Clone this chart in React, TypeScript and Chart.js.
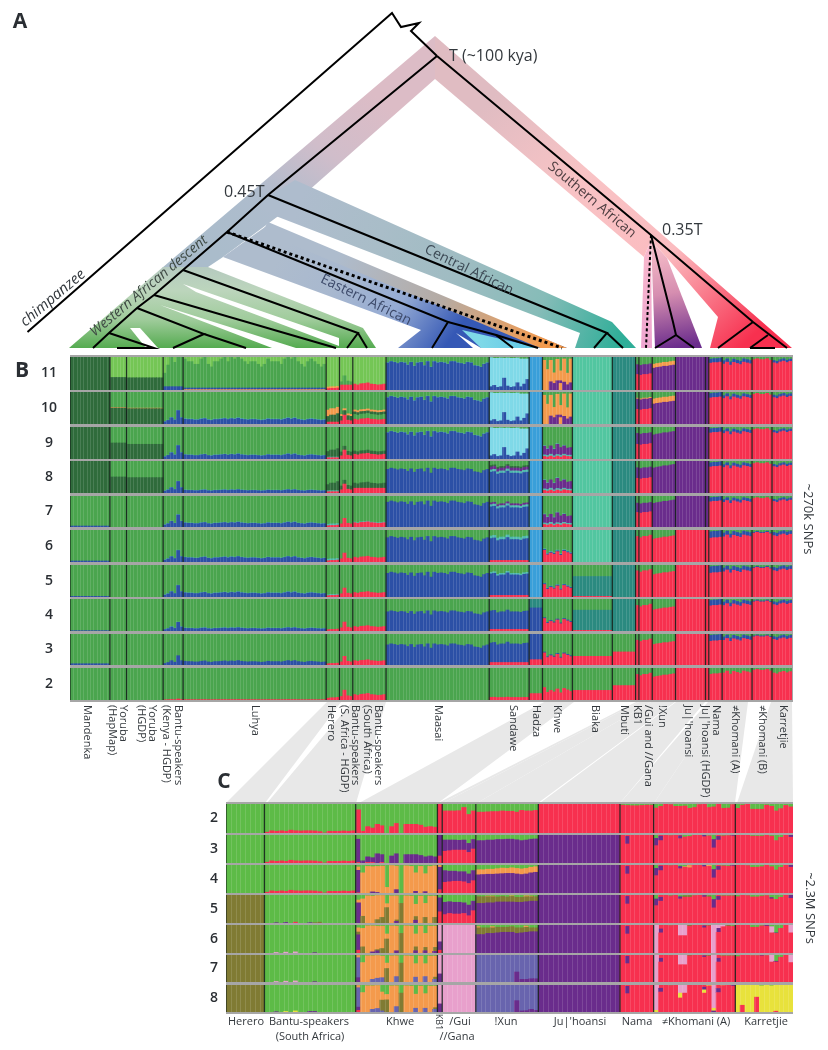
import React, { useEffect, useRef } from "react";
import { Chart, registerables } from "chart.js";

Chart.register(...registerables);

// ---------- colours of the ancestry components ----------
const COLORS: Record<string, string> = {
  G: "#4aa54e", L: "#74c655", D: "#2f6b3b", B: "#2c50a6", R: "#f7304f", O: "#f49a4c",
  C: "#7fd9e8", H: "#3a9fd9", T: "#52c6a0", M: "#2b8a80", P: "#6a2c8c", A: "#4fb9ad",
  E: "#5dbb47", V: "#807b33", K: "#e8a0cc", I: "#6864ae", Y: "#e8e23c",
};

// ---------- panel B ----------
const B_COUNTS = [12, 5, 11, 6, 43, 4, 4, 10, 31, 12, 4, 9, 12, 7, 1, 4, 7, 9, 1, 4, 9, 6, 6];

const SHAPE_LUHYA = [1.1, 1, 1, .9, .9, 1.1, 1.2, .9, .8, 1, 1, 1.1, 1.2, 1, 1.2, 1.1, 1.3, 1.1, 1, .9, 1, 1, .9, .8, .9, 1.1, 1, 1, 1, .9, 1.1, 1.3, 1.1, 1.3, 1, .9, .8, 1, 1.1, 1, .9, .8, .9];
const SHAPE_BANTU_K = [.5, .8, 1.4, .9, 3, 1.4];
const SHAPE_MAASAI = [1, 1.05, 1.02, .98, 1.02, 1, .92, 1.02, .88, 1, 1.02, .9, 1.05, .84, 1.05, 1, 1.02, 1, .95, 1.05, 1.05, 1, .98, .95, 1.02, 1, .9, .88, .84, .95, 1];
const SHAPE_SANDAWE = [1.05, 1.08, .95, 1, 1, 1.1, 1, 1, 1, .97, 1.03, 1.05];
const SHAPE_KHWE = [1.3, .8, 1, .85, 1.15, .75, 1.2, 1.05, .9];
const SHAPE_BANTU_S = [1, .85, 1.05, 1.1, 1.2, 1, .95, .85, .9, 1];
const SHAPE_BANTU_H = [.5, 1.4, .6, .5];
const SHAPE_HERERO = [.8, 1, 1, 1.2];
const SHAPE_GUI = [.95, 1, 1, 1.05];
const SHAPE_XUN = [.92, .95, .97, 1, 1, 1.03, 1.05];
const SHAPE_NAMA = [.98, 1, 1, 1.02];
const SHAPE_KHOM_A = [.96, 1.03, .92, 1.02, .98, .94, 1.03, 1, .97];
const SHAPE_KHOM_B = [1, 1.03, 1, 1, 1.03, .98];
const SHAPE_KARRETJIE = [.97, .94, 1, 1.03, .98, 1.02];
const B_SHAPES: Record<number, number[]> = { 3: SHAPE_BANTU_K, 4: SHAPE_LUHYA, 5: SHAPE_HERERO, 6: SHAPE_BANTU_H, 7: SHAPE_BANTU_S, 8: SHAPE_MAASAI, 9: SHAPE_SANDAWE, 11: SHAPE_KHWE, 15: SHAPE_GUI, 16: SHAPE_XUN, 19: SHAPE_NAMA, 20: SHAPE_KHOM_A, 21: SHAPE_KHOM_B, 22: SHAPE_KARRETJIE };

const SAN_CYAN = ["B.1 C.88 G", "B.14 C.82 G", "B.08 C.88 G", "B.1 C.87 G", "B.36 C.6 G", "B.12 C.85 G", "B.08 C.88 G", "B.1 C.86 G", "B.22 C.75 G", "B.1 C.84 G", "B.18 C.76 G", "B.32 C.62 G"];
const KHWE_ORANGE = ["O.9 G", "O.62 G", "P.25 O.65 G", "P.2 O.32 G", "P.28 O.65 G", "O.2 P.08 O.3 G", "P.24 O.7 G", "P.16 O.35 G", "P.22 O.72 G"];
const KHWE_PURPLE = ["R.08 A.05 P.27 A.02 G", "R.06 A.05 P.2 A.02 G", "R.09 A.06 P.26 G", "R.05 A.05 P.2 A.02 G", "R.09 A.05 P.32 A.02 G", "R.06 A.06 P.24 G", "R.1 A.05 P.26 A.02 G", "R.08 A.04 P.22 G", "R.07 A.05 P.24 G"];

const B_ROWS: Record<number, any[]> = {
  11: ["D", "D.38 L", "D.37 L", "B.1 G.82 L", "O.01 B.05 G.8 L", "R.05 O.05 L", "R.15 G.2 L", "R.18 L", "B.82 A.01 G", SAN_CYAN, "H", KHWE_ORANGE, "T", "M", "R.47 P.3 G", "R.47 P.3 G", "P.72 O.12 G", "P", "P", "R.83 B.12 G", "R.82 B.1 G", "R.92 G", "R.85 B.07 G"],
  10: ["D", "D.5 O.015 G", "D.48 O.015 G", "B.14 A.01 G", "B.14 A.015 G", "R.06 D.22 O.2 G", "R.2 D.14 O.06 G", "R.15 G.15 D.08 O.06 G", "B.82 A.01 G", SAN_CYAN, "H", KHWE_ORANGE, "T", "M", "R.46 P.32 O.03 G", "R.46 P.32 O.03 G", "P.68 O.16 G", "P", "P", "R.83 B.14 G", "R.83 B.09 G", "R.93 G", "R.85 B.08 G"],
  9: ["D", "D.5 G", "D.46 G", "B.14 A.01 G", "B.12 A.01 G", "R.04 A.02 D.22 G", "R.2 D.12 G", "R.15 D.1 G", "B.82 A.01 G", SAN_CYAN, "H", KHWE_PURPLE, "T", "M", "R.46 P.34 G", "R.46 P.34 G", "P.82 G", "P", "P", "R.83 B.13 G", "R.83 B.09 G", "R.92 G", "R.85 B.07 G"],
  8: ["D", "D.5 G", "D.48 G", "B.12 A.01 G", "B.08 A.01 G", "R.04 A.03 D.24 G", "R.2 D.12 G", "R.15 D.16 G", "B.74 G", "B.62 A.07 P.09 D.05 G", "H", KHWE_PURPLE, "T", "M", "R.46 P.33 G", "R.46 P.33 G", "P.85 G", "P", "P", "R.83 B.13 G", "R.83 B.09 G", "R.92 G", "R.85 B.07 G"],
  7: ["B.03 G", "G", "G", "B.13 A.01 G", "B.12 A.01 G", "R.05 A.05 G", "R.2 G", "R.14 A.02 G", "B.8 G", "B.62 A.07 P.06 G", "H", KHWE_PURPLE, "T", "M", "R.47 P.3 G", "R.47 P.3 G", "P.83 G", "P", "P", "R.83 B.13 G", "R.83 B.09 G", "R.92 G", "R.85 B.07 G"],
  6: ["B.03 G", "G", "G", "B.12 A.01 G", "B.13 A.01 G", "R.05 A.05 G", "R.2 G", "R.15 G", "B.76 G", "R.05 B.65 A.08 G", "H", "R.28 B.03 A.02 G", "T", "M", "R.8 G", "R.8 G", "R.78 G", "R", "R", "R.76 B.2 G", "R.82 B.12 G", "R.9 B.03 G", "R.85 B.1 G"],
  5: ["B.02 G", "G", "G", "B.12 A.01 G", "B.12 A.01 G", "R.05 A.03 G", "R.2 G", "R.14 G", "B.74 G", "R.05 B.64 A.05 G", "H", "R.3 B.03 A.01 G", "R.02 M.62 G", "M", "R.82 G", "R.82 G", "R.76 G", "R", "R", "R.76 B.2 G", "R.82 B.12 G", "R.9 B.03 G", "R.85 B.1 G"],
  4: ["B.01 G", "G", "G", "B.09 A.01 G", "B.08 A.01 G", "R.05 G", "R.2 G", "R.14 G", "B.6 G", "R.05 B.55 G", "B.72 M", "R.3 B.03 G", "R.02 M.63 G", "M", "R.8 G", "R.8 G", "R.72 G", "R", "R", "R.8 B.17 G", "R.83 B.11 G", "R.91 B.03 G", "R.85 B.09 G"],
  3: ["B.04 G", "G", "G", "B.1 G", "B.11 G", "R.05 G", "R.2 G", "R.14 G", "B.65 G", "R.08 B.6 G", "R.17 B.83", "R.3 B.03 G", "R.28 G", "R.42 G", "R.8 G", "R.8 G", "R.72 G", "R", "R", "R.78 B.19 G", "R.83 B.11 G", "R.91 B.03 G", "R.85 B.09 G"],
  2: ["G", "G", "G", "R.01 G", "R.01 G", "R.07 G", "R.22 G", "R.17 G", "G", "R.08 G", "R.2 G", "R.3 G", "R.3 G", "R.45 G", "R.8 G", "R.8 G", "R.78 G", "R", "R", "R.82 G", "R.88 G", "R.93 G", "R.87 G"],
};
const B_ROW_ORDER = [11, 10, 9, 8, 7, 6, 5, 4, 3, 2];

// ---------- panel C ----------
const C_COUNTS = [8, 19, 17, 1, 7, 13, 17, 7, 17, 12];
const SHAPE_BANTU_C = [.4, 1.1, .85, 1.1, .85, 1.4, 1.1, 1, 1.1, 1.1, 1, .7, 0, .85, .85, .85, 1, .85, 1.1];
const C_SHAPES: Record<number, number[]> = { 1: SHAPE_BANTU_C };

const BANTU5 = ["E", "E", "P.01 E", "E", "P.02 E", "E", "R.03 E", "E", "E", "P.01 E", "V.01 E", "V.03 E", "E", "E", "E", "E", "E", "E", "E"];
const BANTU6 = ["E", "E", "K.02 E", "E", "K.03 E", "E", "K.04 E", "E", "E", "E", "P.01 E", "E", "E", "E", "E", "E", "E", "E", "E"];
const BANTU8 = ["E", "E", "P.01 E", "E", "Y.02 E", "E", "Y.04 E", "E", "E", "P.02 E", "P.02 E", "E", "E", "E", "E", "E", "E", "E", "E"];

const KHWE2 = ["R.8 E", "R.06 E", "R.22 E", "R.17 E", "R.3 E", "R.25 E", "E", "R.22 E", "R.33 E", "E", "R.3 E", "R.3 E", "R.3 E", "R.27 E", "R.2 E", "R.22 E", "R.2 E"];
const KHWE3 = ["R.02 P.83 E", "P.08 E", "R.02 P.2 E", "R.02 P.17 E", "P.33 E", "R.02 P.28 E", "E", "P.25 E", "P.33 E", "E", "P.3 E", "P.3 E", "P.3 E", "P.27 E", "P.22 E", "P.25 E", "P.22 E"];
const KHWE4 = ["R.01 P.8 O.12 E", "O.72 E", "O.95 E", "P.04 O.9 E", "P.02 O.93 E", "O.96 E", "O.2 E", "O.98 E", "P.12 O.84 E", "E", "O.97 E", "O.95 E", "P.06 O.66 E", "O.95 E", "P.05 O.64 E", "O.95 E", "O.97 E"];
const KHWE5 = ["P.72 O.1 E", "V.24 O.62 E", "O.97 E", "O.96 E", "V.12 O.86 E", "V.2 O.78 E", "V.55 O.14 E", "O.97 E", "P.06 V.05 O.86 E", "V.7 E", "O.97 E", "O.96 E", "P.1 V.13 O.44 E", "O.96 E", "V.2 O.5 E", "O.96 E", "V.2 O.76 E"];
const KHWE6 = ["R.1 P.55 V.1 O.15 E", "V.22 O.66 E", "O.97 E", "P.04 O.93 E", "P.08 V.04 O.84 E", "V.16 O.8 E", "V.5 O.18 E", "O.97 E", "P.08 O.88 E", "V.7 E", "O.97 E", "O.96 E", "P.08 V.14 O.46 E", "O.96 E", "P.08 V.12 O.5 E", "O.96 E", "P.06 V.14 O.76 E"];
const KHWE7 = ["P.16 I.74 O.08 E", "O.72 E", "O.97 E", "I.1 O.87 E", "I.14 O.84 E", "I.16 O.8 E", "V.5 O.2 E", "O.97 E", "I.2 O.77 E", "V.7 E", "O.97 E", "O.96 E", "I.18 O.5 E", "O.96 E", "I.2 O.48 E", "O.96 E", "I.1 V.08 O.78 E"];
const KHWE8 = ["R.06 P.12 I.72 O.08 E", "O.72 E", "O.97 E", "I.1 O.87 E", "I.13 O.85 E", "I.04 V.4 O.3 E", "V.45 O.2 E", "O.97 E", "I.2 O.77 E", "V.7 E", "O.97 E", "O.96 E", "I.14 O.52 E", "O.96 E", "I.14 O.54 E", "O.96 E", "I.1 V.06 O.8 E"];

const GUI2 = ["R.76 E", "R.76 E", "R.76 E", "R.77 E", "R.88 E", "R.64 E", "R.76 E"];
const GUI3 = ["R.42 P.4 E", "R.44 P.38 E", "R.46 P.36 E", "R.46 P.35 E", "R.46 P.36 E", "R.38 P.32 E", "R.5 P.34 E"];
const GUI4 = ["R.38 P.42 E", "R.4 P.38 E", "R.42 P.36 E", "R.42 P.34 E", "R.4 P.36 E", "R.34 P.34 E", "R.44 P.36 E"];
const GUI5 = ["R.3 P.44 E", "R.34 P.42 E", "R.32 P.42 E", "R.32 P.42 E", "R.34 P.38 E", "R.26 P.38 E", "R.44 P.34 E"];

const XUN2 = ["R.72 E", "R.72 E", "R.73 E", "R.74 E", "R.74 E", "R.76 E", "R.75 E", "R.75 E", "R.72 E", "R.78 E", "R.76 E", "R.76 E", "R.78 E"];
const XUN3 = ["P.8 E", "P.8 E", "P.82 E", "P.82 E", "P.84 E", "P.84 E", "P.85 E", "P.85 E", "P.83 E", "P.8 E", "P.82 E", "P.85 E", "P.86 E"];
const XUN4 = ["P.65 O.18 E", "P.66 O.17 E", "P.67 O.18 E", "P.67 O.18 E", "P.68 O.19 E", "P.69 O.2 E", "P.7 O.18 E", "P.7 O.2 E", "P.68 O.2 E", "P.66 O.2 E", "P.68 O.2 E", "P.72 O.2 E", "P.74 O.2 E"];
const XUN5 = ["P.7 V.24 E", "P.7 V.24 E", "P.72 V.22 O.02 E", "P.72 V.22 O.02 E", "P.75 V.18 E", "P.75 V.2 E", "P.75 V.18 E", "P.75 V.2 O.02 E", "P.74 V.18 E", "P.74 V.18 E", "P.76 V.18 O.03 E", "P.78 V.16 O.02 E", "P.78 V.16 E"];
const XUN6 = ["P.66 V.24 O.04 E", "P.66 V.24 E", "P.7 V.2 E", "P.7 V.2 O.04 E", "P.72 V.2 E", "P.74 V.18 E", "P.74 V.18 E", "P.74 V.2 E", "P.7 V.2 E", "P.72 V.18 E", "P.74 V.18 O.04 E", "P.76 V.14 E", "P.76 V.14 E"];
const XUN7 = ["I", "I", "I", "I", "I", "I", "I", "I", "P.37 I", "P.1 I", "P.1 I", "P.12 I", "P.12 I"];
const XUN8 = ["I", "I", "I", "I", "I", "I", "I", "I", "P.42 I", "P.04 I", "P.05 I", "P.1 I", "P.06 I"];

const JU_ALL_RED = "R";
const NAMA2 = ["R.96 E", "R.95 E", "R.94 E", "R.94 E", "R.95 E", "R.96 E", "R.96 E"];
const NAMA3 = ["R", "R.68 P.27 R", "R", "R", "R", "R", "R"];

const KHOM2 = ["R.86 E", "R.92 E", "R", "R.98 E", "R.92 E", "R.92 E", "R.93 E", "R.85 E", "R.88 E", "R.98 E", "R", "R.88 E", "R.9 E", "R", "R.85 E", "R.86 E", "R.98 E"];
const KHOM3 = ["R.62 P.26 E", "R.8 P.16 R", "R", "R.98 E", "R", "R.87 P.1 R", "R.93 E", "R.95 E", "R", "R", "R.94 P.05 R", "R.97 E", "R.54 P.3 E", "R.82 P.13 R", "R.97 E", "R.98 E", "R.96 P.02 R"];
const KHOM4 = ["R.62 P.26 E", "R.8 P.16 R", "R", "R.98 E", "R", "R.87 P.08 E", "R.92 O.02 E", "R.9 O.08 R", "R", "R", "R.94 P.05 R", "R.95 O.04 R", "R.54 P.3 E", "R.82 P.13 R", "R.97 E", "R.96 E", "R.96 P.02 R"];
const KHOM5 = ["R.62 P.24 E", "R.78 P.14 R", "R", "R.97 E", "R", "R.86 P.08 E", "R.92 V.05 E", "R.92 V.06 E", "R.98 E", "R", "R.93 P.05 R", "R.93 V.04 E", "R.54 P.3 E", "R.82 P.13 R", "R.97 E", "R.97 E", "R.97 E"];
const KHOM6 = ["K", "R.72 P.14 R", "R", "R.98 E", "R", "R.62 K", "R.62 K", "R.96 V", "R", "R", "R.9 P.07 R", "R.97 V", "K", "R.74 P.14 K", "R.94 K", "R.96 V", "R.96 E"];
const KHOM7 = ["K", "R.74 P.14 R", "R", "R.98 V", "R", "R.64 K", "R.64 K", "R.97 V", "R", "R", "R.92 P.05 R", "R.96 V", "K", "R.74 P.14 R", "R.97 E", "R.97 E", "R.97 E"];
const KHOM8 = ["Y.06 K", "R.74 P.14 R", "R", "R.98 E", "R", "R.52 Y.18 K", "R.7 K", "R", "R", "R", "R.7 Y.12 P.1 R", "R.97 Y", "P.04 Y.1 K", "R.72 P.15 R", "R.98 Y", "R", "R.96 P"];

const KARR2 = ["R.85 E", "R.96 E", "R", "R.82 E", "R.82 E", "R.82 E", "R.96 E", "R.92 E", "R.76 E", "R.84 E", "R.95 E", "R.9 E"];
const KARR3 = ["R", "R", "R", "R.96 E", "R.96 E", "R.96 E", "R", "R.96 E", "R.8 E", "R.92 E", "R", "R.92 P"];
const KARR4 = ["R", "R", "R.98 E", "R.92 E", "R.92 E", "R.94 E", "R", "R.94 E", "R.82 E", "R.92 E", "R", "R.92 P"];
const KARR5 = ["R.94 E", "R", "R.98 E", "R.93 E", "R.93 E", "R.96 E", "R.98 E", "R.86 P.05 E", "R.84 E", "R.92 E", "R", "R.88 P"];
const KARR6 = ["R", "R", "R", "R.92 E", "R.92 E", "R.97 E", "R.96 P", "R.72 K.22 E", "R.7 P.02 E", "R.88 E", "R", "R.72 K"];
const KARR7 = ["R.94 E", "R", "R", "R.98 E", "R.98 E", "R.97 P", "R.98 E", "R.74 K", "R.74 P.03 E", "R.92 E", "R", "R.72 K"];
const KARR8 = ["Y", "R.25 Y", "Y", "Y", "R.55 Y", "Y.97 E", "Y", "Y.97 E", "R.03 Y", "Y", "Y", "Y"];

const C_ROWS: Record<number, any[]> = {
  2: ["E", "R.07 E", KHWE2, "R", GUI2, XUN2, JU_ALL_RED, NAMA2, KHOM2, KARR2],
  3: ["E", "R.07 E", KHWE3, "R.25 P", GUI3, XUN3, "P", NAMA3, KHOM3, KARR3],
  4: ["E", "R.07 E", KHWE4, "R.12 P.8 O", GUI4, XUN4, "P", NAMA3, KHOM4, KARR4],
  5: ["V", BANTU5, KHWE5, "R.4 P.5 E", GUI5, XUN5, "P", NAMA3, KHOM5, KARR5],
  6: ["V", BANTU6, KHWE6, "R.1 P.3 K", "K", XUN6, "P", NAMA3, KHOM6, KARR6],
  7: ["V", BANTU6, KHWE7, "P.3 K", "K", XUN7, "P", NAMA3, KHOM7, KARR7],
  8: ["V", BANTU8, KHWE8, "P.3 K", "K", XUN8, "P", NAMA3, KHOM8, KARR8],
};
const C_ROW_ORDER = [2, 3, 4, 5, 6, 7, 8];

// ---------- panel A: tree ----------
type Pt = [number, number];
const TREE_CHIMP: Pt[] = [[27.5, 332], [392, 13], [401, 27], [419, 23], [411, 31], [437, 56]];
const TREE_LEFT: Pt[] = [[437, 56], [268, 195], [227, 232], [183, 270], [154, 295], [137, 308], [109, 333], [93, 348]];
const TREE_RIGHT: Pt[] = [[437, 56], [651, 235], [753, 322], [787, 348]];
const TREE_LINES: Pt[][] = [
  [[268, 195], [607, 333], [594, 348]], [[607, 333], [623, 348]],
  [[227, 232], [448, 322], [432, 348]], [[448, 322], [496, 335], [513, 348]], [[496, 335], [538, 348]],
  [[183, 270], [358, 333], [347, 348]], [[358, 333], [367, 348]],
  [[154, 295], [336, 348]],
  [[137, 308], [204, 334], [173, 348]], [[204, 334], [246, 348]],
  [[109, 333], [154, 348], [117, 348]],
  [[651, 235], [673, 322], [676, 335], [655, 348]], [[676, 335], [694, 348]],
  [[753, 322], [718, 348]], [[768, 335], [750, 348]], [[750, 348], [775, 348]],
];
const TREE_DOTTED: Pt[][] = [[[227, 232], [562, 348]], [[651, 235], [646, 348]]];

type Band = { pts: Pt[]; from: Pt; to: Pt; stops: string[] };
const BANDS: Band[] = [
  { pts: [[435, 36], [162, 268], [208, 267], [223, 257], [300, 200], [307, 192], [435, 79]], from: [340, 70], to: [210, 250], stops: ["#dcbcc6", "#d0bdca", "#aebccd", "#aabccb"] },
  { pts: [[163, 267], [69, 348], [376, 348], [363, 328], [208, 267]], from: [200, 262], to: [200, 348], stops: ["#b4c8c0", "#bcd5bc", "#a0cc9c", "#55ab50"] },
  { pts: [[295, 180], [612, 322], [636, 348], [575, 348], [580, 333], [273, 215], [255, 205]], from: [300, 200], to: [625, 330], stops: ["#aebccd", "#a9bdc8", "#9fbcc2", "#86bcb8", "#2fae98"] },
  { pts: [[265, 227], [567, 348], [398, 348], [421, 330], [223, 257]], from: [300, 230], to: [450, 340], stops: ["#aebccd", "#a8b8cf", "#95abd4", "#3558b5"] },
  { pts: [[268, 222], [567, 348], [540, 348], [262, 232]], from: [340, 250], to: [545, 345], stops: ["#aebccd", "#b5aba4", "#f49a4c"] },
  { pts: [[462, 330], [540, 348], [481, 348]], from: [480, 348], to: [540, 348], stops: ["#7fd9e8", "#5cc4e6"] },
  { pts: [[435, 36], [792, 348], [710, 348], [718, 317], [667, 258], [651, 240], [644, 257], [435, 79]], from: [500, 90], to: [740, 348], stops: ["#e0bcc2", "#f8c3c5", "#fbbcc0", "#f7304f"] },
  { pts: [[651, 240], [667, 258], [702, 348], [655, 348]], from: [655, 240], to: [675, 348], stops: ["#fbc4cc", "#d68eb0", "#6a2c8c"] },
  { pts: [[644, 257], [651, 240], [652, 348], [641, 348]], from: [645, 250], to: [645, 348], stops: ["#f8b8cc", "#eea5d0"] },
];
const WHITE_SLITS: Pt[][] = [
  [[183, 284], [339, 338], [339, 346], [196, 292]],
  [[130, 328], [140, 328], [158, 348], [146, 348]],
  [[160, 305], [296, 348], [272, 348]],
  [[456, 333], [473, 348], [481, 348]],
];

// ---------- connectors between B and C ----------
const CONNECTORS: Pt[][] = [
  [[327, 702], [341, 702], [265, 803], [226, 803]],
  [[352, 702], [386, 702], [356, 803], [267, 803]],
  [[544, 702], [574, 702], [438, 803], [359, 803]],
  [[636, 702], [639, 702], [443, 803], [438, 803]],
  [[639, 702], [651, 702], [477, 803], [443, 803]],
  [[651, 702], [675, 702], [538, 803], [477, 803]],
  [[676, 702], [705, 702], [620, 803], [540, 803]],
  [[708, 702], [722, 702], [654, 803], [620, 803]],
  [[722, 702], [748, 702], [735, 803], [654, 803]],
  [[771, 702], [792, 702], [793, 803], [737, 803]],
];
const PANEL_BACKS: Pt[][] = [
  [[70, 355], [793, 355], [793, 702], [70, 702]],
  [[226, 802], [793, 802], [793, 1014], [226, 1014]],
];

// ---------- text ----------
const B_LABELS: [string, number][] = [
  ["Mandenka", 87], ["Yoruba", 123], ["(HapMap)", 112], ["Yoruba", 152], ["(HGDP)", 141],
  ["Bantu-speakers", 178], ["(Kenya - HGDP)", 166], ["Luhya", 255], ["Herero", 331],
  ["Bantu-speakers", 355], ["(S. Africa - HGDP)", 344], ["Bantu-speakers", 378], ["(South Africa)", 367],
  ["Maasai", 438], ["Sandawe", 513], ["Hadza", 536], ["Khwe", 557], ["Biaka", 595], ["Mbuti", 624], ["KB1", 637],
  ["/Gui and //Gana", 648], ["!Xun", 662], ["Ju|'hoansi", 688], ["Ju|'hoansi (HGDP)", 705], ["Nama", 716],
  ["≠Khomani (A)", 735], ["≠Khomani (B)", 762], ["Karretjie", 783],
];
const C_LABELS: [string, number, number][] = [
  ["Herero", 246, 1022], ["Bantu-speakers", 309, 1022], ["(South Africa)", 310, 1037], ["Khwe", 400, 1022],
  ["/Gui", 460, 1022], ["//Gana", 457, 1037], ["!Xun", 506, 1022], ["Ju|'hoansi", 580, 1022], ["Nama", 637, 1022],
  ["≠Khomani (A)", 696, 1022], ["Karretjie", 766, 1022],
];
const FONT = '"Open Sans", sans-serif';
const TEXT_COLOR = "#33383d";

// ---------- build ----------
function parseStack(spec: string): [string, number][] {
  const tokens = spec.trim().split(/\s+/).map((t) => [t[0], t.length > 1 ? parseFloat(t.slice(1)) : NaN] as [string, number]);
  const used = tokens.reduce((s, t) => s + (isNaN(t[1]) ? 0 : t[1]), 0);
  return tokens.map((t) => [t[0], isNaN(t[1]) ? Math.max(0, 1 - used) : t[1]]);
}

function expandRow(entries: any[], counts: number[], shapes: Record<number, number[]>) {
  const bars: [string, number][][] = [];
  entries.forEach((entry, p) => {
    for (let i = 0; i < counts[p]; i++) {
      if (Array.isArray(entry)) { bars.push(parseStack(entry[i])); continue; }
      const stack = parseStack(entry);
      const shape = shapes[p];
      if (shape && stack.length > 1) {
        let big = 0;
        for (let k = 0; k < stack.length - 1; k++) if (stack[k][1] > stack[big][1]) big = k;
        stack[big][1] *= shape[i];
        const rest = stack.slice(0, -1).reduce((s, t) => s + t[1], 0);
        stack[stack.length - 1][1] = Math.max(0, 1 - rest);
      }
      bars.push(stack);
    }
  });
  return bars;
}

const rowBoundsB: [number, number][] = [[357, 390], [392, 424], [427, 459], [461, 493], [496, 527], [530, 562], [565, 597], [599, 631], [634, 665], [668, 700]];
const rowBoundsC: [number, number][] = [[804, 833], [835, 863], [865, 893], [895, 923], [925, 953], [955, 982], [985, 1012]];

function rowChart(canvas: HTMLCanvasElement, bars: [string, number][][], counts: number[]) {
  const slots = Math.max(...bars.map((b) => b.length));
  const datasets = Array.from({ length: slots }, (_, s) => ({
    data: bars.map((b) => (b[s] ? b[s][1] : 0)),
    backgroundColor: bars.map((b) => (b[s] ? COLORS[b[s][0]] : "transparent")),
    borderWidth: 0,
    barPercentage: 1,
    categoryPercentage: 1,
  }));
  const edges: number[] = [0];
  counts.forEach((c, i) => edges.push(edges[i] + c));
  return new Chart(canvas, {
    type: "bar",
    data: { labels: bars.map((_, i) => String(i + 1)), datasets },
    options: {
      animation: false,
      responsive: false,
      layout: { padding: 0 },
      plugins: { legend: { display: false }, tooltip: { enabled: false } },
      scales: {
        x: { stacked: true, display: false },
        y: { stacked: true, display: false, min: 0, max: 1 },
      },
    },
    plugins: [{
      id: "separators",
      afterDatasetsDraw(chart: any) {
        const { ctx, chartArea: a } = chart;
        const step = (a.right - a.left) / bars.length;
        ctx.save();
        ctx.strokeStyle = "rgba(255,255,255,0.13)";
        ctx.lineWidth = 1;
        bars.forEach((_, i) => {
          const px = Math.round(a.left + step * (i + 1)) + 0.5;
          ctx.beginPath(); ctx.moveTo(px, a.top); ctx.lineTo(px, a.bottom); ctx.stroke();
        });
        ctx.strokeStyle = "rgba(20,32,26,0.88)";
        ctx.lineWidth = 1.3;
        edges.slice(0, -1).forEach((e) => {
          const px = a.left + step * e;
          ctx.beginPath(); ctx.moveTo(px, a.top); ctx.lineTo(px, a.bottom); ctx.stroke();
        });
        ctx.restore();
      },
    }],
  } as any);
}

function overlayChart(canvas: HTMLCanvasElement) {
  const sets: any[] = [];
  const poly = (pts: Pt[], color: any) => sets.push({ data: pts.map(([x, y]) => ({ x, y })), showLine: true, pointRadius: 0, borderWidth: 0, borderColor: "transparent", backgroundColor: color, fill: "shape", tension: 0 });
  const line = (pts: Pt[], width: number, dash?: number[]) => sets.push({ data: pts.map(([x, y]) => ({ x, y })), showLine: true, pointRadius: 0, borderWidth: width, borderColor: "#000", borderDash: dash || [], borderJoinStyle: "miter", fill: false, tension: 0 });
  CONNECTORS.forEach((p) => poly(p, "#e8e8e8"));
  PANEL_BACKS.forEach((p) => poly(p, "#a6a6a6"));
  BANDS.forEach((b) => poly(b.pts, (c: any) => {
    const { x, y } = c.chart.scales;
    const px = (v: number, s: any) => { const r = s ? s.getPixelForValue(v) : NaN; return isFinite(r) ? r : v; };
    const g = c.chart.ctx.createLinearGradient(px(b.from[0], x), px(b.from[1], y), px(b.to[0], x), px(b.to[1], y));
    b.stops.forEach((s, i) => g.addColorStop(i / (b.stops.length - 1), s));
    return g;
  }));
  WHITE_SLITS.forEach((p) => poly(p, "#ffffff"));
  line(TREE_CHIMP, 2);
  line(TREE_LEFT, 2);
  line(TREE_RIGHT, 2);
  TREE_LINES.forEach((p) => line(p, 2));
  line(TREE_DOTTED[0], 3, [3, 3]);
  line(TREE_DOTTED[1], 2, [3, 2.5]);
  sets.forEach((s, i) => (s.order = -i));

  return new Chart(canvas, {
    type: "scatter",
    data: { datasets: sets },
    options: {
      animation: false,
      responsive: false,
      layout: { padding: 0 },
      plugins: { legend: { display: false }, tooltip: { enabled: false } },
      scales: {
        x: { type: "linear", display: false, min: 0, max: 828 },
        y: { type: "linear", display: false, min: 0, max: 1050, reverse: true },
      },
    },
    plugins: [{
      id: "texts",
      afterDraw(chart: any) {
        const { ctx, scales: { x, y } } = chart;
        const put = (t: string, px: number, py: number, font: string, rot = 0, align: CanvasTextAlign = "center", color = TEXT_COLOR) => {
          ctx.save();
          ctx.translate(x.getPixelForValue(px), y.getPixelForValue(py));
          ctx.rotate((rot * Math.PI) / 180);
          ctx.font = font;
          ctx.fillStyle = color;
          ctx.textAlign = align;
          ctx.textBaseline = "middle";
          ctx.fillText(t, 0, 0);
          ctx.restore();
        };
        put("A", 20, 22, `bold 21px ${FONT}`, 0, "center", "#2a2e33");
        put("B", 22, 371, `bold 21px ${FONT}`, 0, "center", "#2a2e33");
        put("C", 224, 782, `bold 21px ${FONT}`, 0, "center", "#2a2e33");
        put("T (~100 kya)", 449, 56, `16px ${FONT}`, 0, "left");
        put("0.45T", 224, 192, `16px ${FONT}`, 0, "left");
        put("0.35T", 662, 230, `16px ${FONT}`, 0, "left");
        put("chimpanzee", 53, 298, `italic 15px ${FONT}`, -40);
        put("Western African descent", 149, 286, `italic 14px ${FONT}`, -40, "center", "#3f4a44");
        put("Central African", 469, 270, `14px ${FONT}`, 26, "center", "#3d4a55");
        put("Eastern African", 366, 300, `14px ${FONT}`, 26, "center", "#3d4a6a");
        put("Southern African", 592, 200, `14px ${FONT}`, 40, "center", "#4d3d40");
        B_ROW_ORDER.forEach((k, i) => put(String(k), 49, (rowBoundsB[i][0] + rowBoundsB[i][1]) / 2, `600 14px ${FONT}`, 0, "center", "#2a2e33"));
        C_ROW_ORDER.forEach((k, i) => put(String(k), 214, (rowBoundsC[i][0] + rowBoundsC[i][1]) / 2, `600 14px ${FONT}`, 0, "center", "#2a2e33"));
        put("~270k SNPs", 808, 519, `13px ${FONT}`, 90);
        put("~2.3M SNPs", 810, 908, `13px ${FONT}`, 90);
        B_LABELS.forEach(([t, px]) => put(t, px, 705, `11px ${FONT}`, 90, "left"));
        C_LABELS.forEach(([t, px, py]) => put(t, px, py, `11px ${FONT}`));
        put("KB1", 439, 1022, `9px ${FONT}`, 90);
      },
    }],
  } as any);
}

export default function App() {
  const overlayRef = useRef<HTMLCanvasElement | null>(null);
  const bRefs = useRef<(HTMLCanvasElement | null)[]>([]);
  const cRefs = useRef<(HTMLCanvasElement | null)[]>([]);

  useEffect(() => {
    const charts: Chart[] = [overlayChart(overlayRef.current!)];
    B_ROW_ORDER.forEach((k, i) => charts.push(rowChart(bRefs.current[i]!, expandRow(B_ROWS[k], B_COUNTS, B_SHAPES), B_COUNTS)));
    C_ROW_ORDER.forEach((k, i) => charts.push(rowChart(cRefs.current[i]!, expandRow(C_ROWS[k], C_COUNTS, C_SHAPES), C_COUNTS)));
    return () => charts.forEach((c) => c.destroy());
  }, []);

  const pos = (l: number, t: number, w: number, h: number): React.CSSProperties => ({ position: "absolute", left: l, top: t, width: w, height: h, display: "block" });

  return (
    <div style={{ position: "absolute", left: 0, top: 0, width: 828, height: 1050, background: "#fff", overflow: "hidden" }}>
      <canvas ref={overlayRef} width={828} height={1050} style={pos(0, 0, 828, 1050)} />
      {rowBoundsB.map(([t, b], i) => (
        <canvas key={"b" + i} ref={(el) => { bRefs.current[i] = el; }} width={722} height={b - t} style={pos(70, t, 722, b - t)} />
      ))}
      {rowBoundsC.map(([t, b], i) => (
        <canvas key={"c" + i} ref={(el) => { cRefs.current[i] = el; }} width={567} height={b - t} style={pos(226, t, 567, b - t)} />
      ))}
    </div>
  );
}
